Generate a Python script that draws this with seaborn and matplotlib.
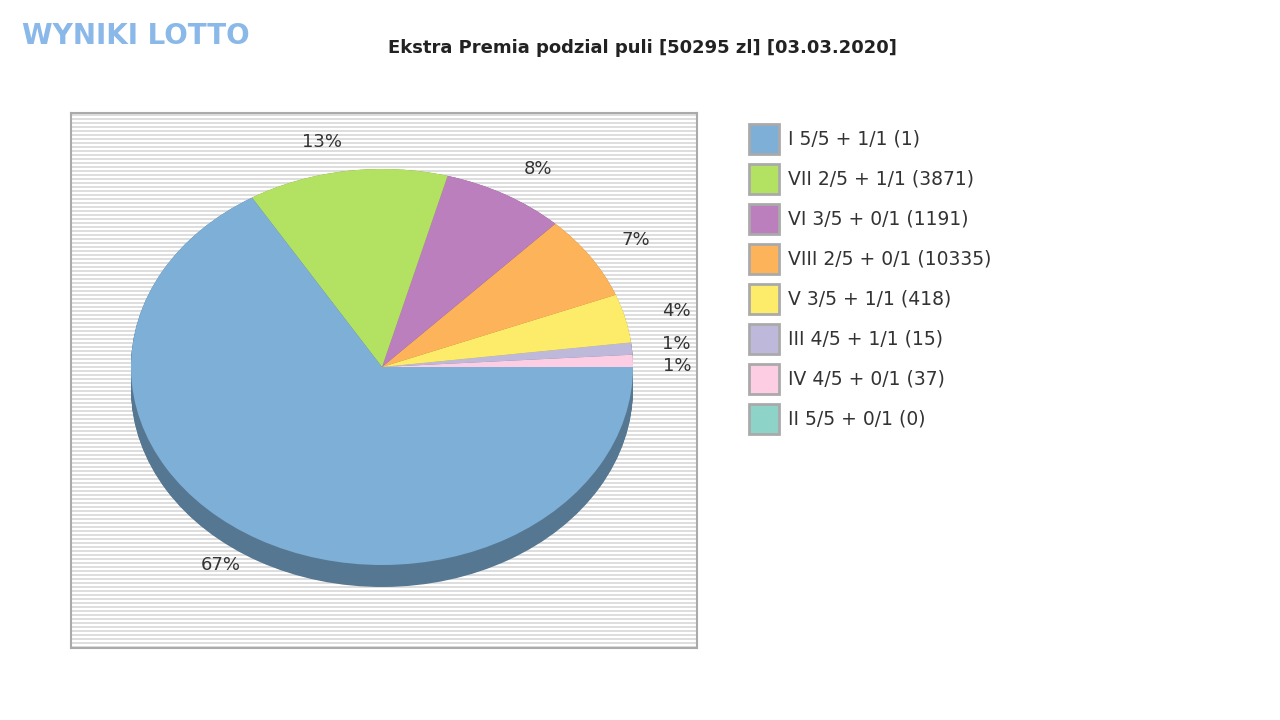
import matplotlib
matplotlib.use("Agg")
import matplotlib.pyplot as plt
import matplotlib.patches as mpatches
import seaborn as sns
import numpy as np

sns.set_theme(style="white")
plt.rcParams['font.family'] = ['DejaVu Sans']

legend_labels = ["I 5/5 + 1/1 (1)", "VII 2/5 + 1/1 (3871)", "VI 3/5 + 0/1 (1191)",
                 "VIII 2/5 + 0/1 (10335)", "V 3/5 + 1/1 (418)", "III 4/5 + 1/1 (15)",
                 "IV 4/5 + 0/1 (37)", "II 5/5 + 0/1 (0)"]
colors = ["#7eafd6", "#b3e262", "#bb7fbd", "#fdb35a", "#fdec6a", "#beb9da", "#fdcde4", "#8dd3c7"]
shares = [67, 13, 8, 7, 4, 1, 1, 0]
# drawing order counter-clockwise from 3 o'clock
pie_order = [6, 5, 4, 3, 2, 1, 0]

def darker(c, f=0.68):
    r, g, b = matplotlib.colors.to_rgb(c)
    return (r*f, g*f, b*f)

fig = plt.figure(figsize=(12.8, 7.2), dpi=100)
L, B, W, H = 71, 72, 626, 535
ax = fig.add_axes([L/1280, B/720, W/1280, H/720])
rx, ry = 251, 198
cx, cy = 311, 281
ax.set_facecolor("white")
yl = np.arange(-cy/ry, (H-cy)/ry, 4/ry)
for y in yl:
    ax.axhspan(y, y+2/ry, color="#dedede", lw=0, zorder=0)

vals = [shares[i] for i in pie_order]
cols = [colors[i] for i in pie_order]
depth = 22/ry
for d in np.linspace(depth, 0, 23):
    ax.pie(vals, colors=[darker(c) for c in cols], startangle=0, counterclock=True,
           center=(0, -d), radius=1, frame=True, wedgeprops=dict(linewidth=0))
texts = ax.pie(vals, colors=cols, startangle=0, counterclock=True, center=(0, 0), radius=1,
               labels=[f"{v}%" for v in vals], labeldistance=1.15, frame=True,
               wedgeprops=dict(linewidth=0),
               textprops=dict(fontsize=13, color="#333333"))[1]
texts[0].set_position((texts[0].get_position()[0] - 0.03, texts[0].get_position()[1] - 0.03))
texts[1].set_position((texts[1].get_position()[0] - 0.03, texts[1].get_position()[1] + 0.01))
ax.set_aspect("auto")
ax.set_xlim(-cx/rx, (W-cx)/rx)
ax.set_ylim(-cy/ry, (H-cy)/ry)
ax.set_xticks([]); ax.set_yticks([])
for s in ax.spines.values():
    s.set_color("#aaaaaa"); s.set_linewidth(1.5)

fig.text(642/1280, 1-48/720, "Ekstra Premia podzial puli [50295 zl] [03.03.2020]",
         ha="center", va="center", fontsize=13, fontweight="bold", color="#222222")
fig.text(22/1280, 1-36/720, "WYNIKI LOTTO", ha="left", va="center", fontsize=20,
         fontweight="bold", color="#8ab8e8")

for k, (lab, c) in enumerate(zip(legend_labels, colors)):
    y = 139 + 40*k
    fig.patches.append(mpatches.Rectangle((749/1280, 1-(y+15)/720), 30/1280, 30/720,
                       transform=fig.transFigure, facecolor=c, edgecolor="#aaaaaa", lw=2))
    fig.text(788/1280, 1-y/720, lab, ha="left", va="center", fontsize=13.5, color="#333333")

fig.savefig("out.png", dpi=100)
